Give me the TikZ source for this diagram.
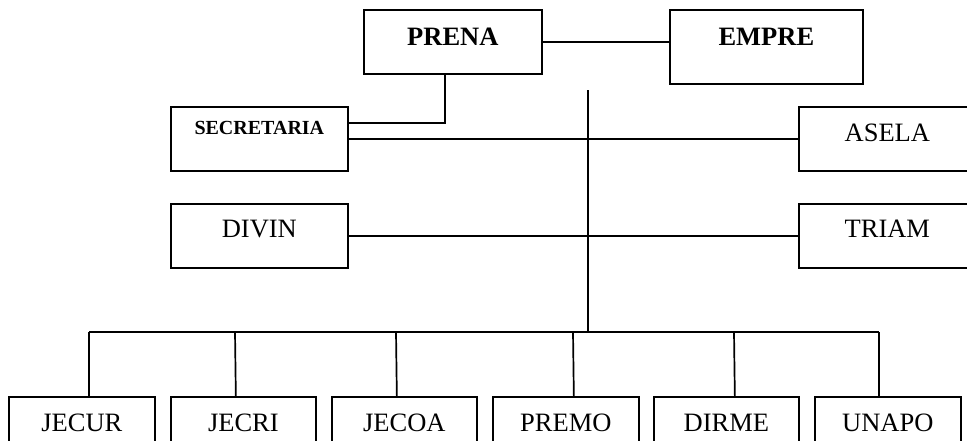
\documentclass[tikz,border=0pt]{standalone}
\usepackage{fontspec}
\setmainfont{Liberation Serif}
\begin{document}
\begin{tikzpicture}[x=1pt,y=-1pt,line width=1.7pt,
  box/.style={draw,rectangle,inner sep=0pt,anchor=north west,font=\fontsize{26.5}{30}\selectfont},
  boldbox/.style={box,font=\fontsize{26.5}{30}\selectfont\bfseries}]
\useasboundingbox (0,0) rectangle (967,440);
\clip (0,0) rectangle (967,440);
% top
\node[boldbox,minimum width=178pt,text height=36pt,text depth=28pt] (prena) at (363,9) {PRENA};
\node[boldbox,minimum width=193pt,text height=36pt,text depth=38pt] (empre) at (669,9) {EMPRE};
\node[box,font=\fontsize{20}{24}\selectfont\bfseries,minimum width=177pt,text height=28pt,text depth=36pt] (secr) at (170,106) {SECRETARIA};
\node[box,minimum width=177pt,text height=35pt,text depth=29pt] (asela) at (798,106) {ASELA};
\node[box,minimum width=177pt,text height=34pt,text depth=30pt] (divin) at (170,203) {DIVIN};
\node[box,minimum width=177pt,text height=34pt,text depth=30pt] (triam) at (798,203) {TRIAM};
% bottom
\node[box,minimum width=146pt,text height=35pt,text depth=30pt] (jecur) at (8,396) {JECUR};
\node[box,minimum width=145pt,text height=35pt,text depth=30pt] (jecri) at (170,396) {JECRI};
\node[box,minimum width=145pt,text height=35pt,text depth=30pt] (jecoa) at (331,396) {JECOA};
\node[box,minimum width=146pt,text height=35pt,text depth=30pt] (premo) at (492,396) {PREMO};
\node[box,minimum width=145pt,text height=35pt,text depth=30pt] (dirme) at (653,396) {DIRME};
\node[box,minimum width=146pt,text height=35pt,text depth=30pt] (unapo) at (814,396) {UNAPO};
% coordinates
\coordinate (top) at (588,90);
\coordinate (mid) at (588,332);
\coordinate (bl) at (89,332);
\coordinate (br) at (879,332);
% connectors
\draw (prena.east) -- (prena.east -| empre.west);
\draw ([xshift=-8pt]prena.south) |- ([yshift=16pt]secr.east);
\draw (secr.east) -- (asela.west);
\draw (divin.east) -- (triam.west);
\draw (top) -- (mid);
\draw (bl) -- (br);
\draw (bl) -- (bl |- jecur.north);
\draw (bl -| 235,0) -- ([xshift=-7.5pt]jecri.north);
\draw (bl -| 396,0) -- ([xshift=-7.5pt]jecoa.north);
\draw (bl -| 573,0) -- ([xshift=8pt]premo.north);
\draw (bl -| 734,0) -- ([xshift=8.5pt]dirme.north);
\draw (br) -- (br |- unapo.north);
\end{tikzpicture}
\end{document}
